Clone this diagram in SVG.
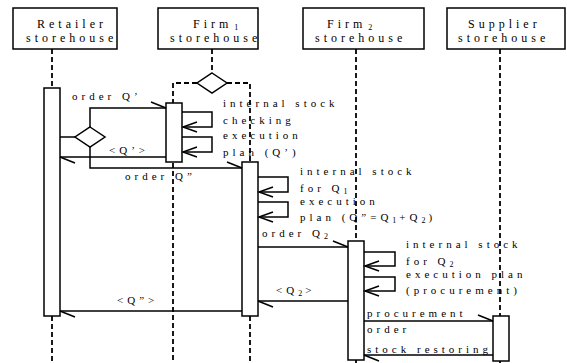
<svg xmlns="http://www.w3.org/2000/svg" width="567" height="363" viewBox="0 0 567 363">
<style>
.box{fill:#fff;stroke:#000;stroke-width:1.5}
.act{fill:#fff;stroke:#000;stroke-width:1.5}
.life{fill:none;stroke:#000;stroke-width:1.8;stroke-dasharray:5 3}
.ln{fill:none;stroke:#000;stroke-width:1.5}
.msg{fill:none;stroke:#000;stroke-width:1.5;marker-end:url(#tick)}
.self{fill:none;stroke:#000;stroke-width:1.5;marker-end:url(#vee)}
.hd{font-family:"Liberation Serif",serif;font-size:12px;letter-spacing:4px;fill:#000}
.tx{font-family:"Liberation Serif",serif;font-size:11px;letter-spacing:4px;fill:#000}
.sub{font-size:8px;letter-spacing:3px}
</style>
<defs>
<marker id="tick" markerUnits="userSpaceOnUse" viewBox="-17 -8 19 10" markerWidth="19" markerHeight="10" refX="0" refY="0" orient="auto" overflow="visible">
<path d="M0,0 L-15,-6" fill="none" stroke="#000" stroke-width="1.5"/>
</marker>
<marker id="vee" markerUnits="userSpaceOnUse" viewBox="-16 -7 18 14" markerWidth="18" markerHeight="14" refX="0" refY="0" orient="auto" overflow="visible">
<path d="M-14,-5 L0,0 L-14,5" fill="none" stroke="#000" stroke-width="1.5"/>
</marker>
</defs>
<rect width="567" height="363" fill="#fff"/>

<g id="retailer">
<rect class="box" x="13" y="8" width="104" height="41"/>
<text class="hd" x="37" y="28">Retailer</text>
<text class="hd" x="26" y="42">storehouse</text>
<path class="life" d="M52,49 V88 M52,316 V363"/>
<rect class="act" x="44" y="88" width="16" height="228"/>
</g>

<g id="firm1">
<rect class="box" x="158" y="8" width="100" height="41"/>
<text class="hd" x="193" y="28">Firm<tspan class="sub" dx="2" dy="2">1</tspan></text>
<text class="hd" x="170" y="42">storehouse</text>
<path class="life" d="M212,49 V73 M197,83 H173 V363 M227,83 H250 V162 M250,316 V363"/>
<polygon class="ln" points="212,73 227,83 212,93 197,83"/>
<rect class="act" x="166" y="103" width="16" height="59"/>
<rect class="act" x="242" y="162" width="16" height="154"/>
</g>

<g id="firm2">
<rect class="box" x="303" y="8" width="121" height="41"/>
<text class="hd" x="327" y="28">Firm<tspan class="sub" dx="2" dy="2">2</tspan></text>
<text class="hd" x="315" y="42">storehouse</text>
<path class="life" d="M356,49 V241 M356,360 V363"/>
<rect class="act" x="348" y="241" width="16" height="119"/>
</g>

<g id="supplier">
<rect class="box" x="447" y="8" width="118" height="41"/>
<text class="hd" x="468" y="28">Supplier</text>
<text class="hd" x="458" y="42">storehouse</text>
<path class="life" d="M500,49 V316 M500,361 V363"/>
<rect class="act" x="493" y="316" width="16" height="45"/>
</g>

<g id="connectors">
<path class="ln" d="M60,137 H75"/>
<polygon class="ln" points="90,127 105,137 90,147 75,137" fill="#fff"/>
<path class="msg" d="M90,127 V108 H166"/>
<path class="msg" d="M90,147 V168 H242"/>
<path class="msg" d="M166,157 H60"/>
<path class="self" d="M182,112 H212 V127 H183"/>
<path class="self" d="M182,137 H212 V152 H183"/>
<path class="self" d="M258,177 H288 V192 H259"/>
<path class="self" d="M258,202 H288 V217 H259"/>
<path class="msg" d="M258,247 H348"/>
<path class="self" d="M364,252 H395 V266 H365"/>
<path class="self" d="M364,277 H395 V291 H365"/>
<path class="msg" d="M348,301 H258"/>
<path class="msg" d="M242,311 H60"/>
<path class="msg" d="M364,321 H493"/>
<path class="msg" d="M493,355 H364"/>
</g>

<g id="labels">
<text class="tx" x="72" y="100">order Q’</text>
<text class="tx" x="109" y="154">&lt;Q’&gt;</text>
<text class="tx" x="125" y="180">order Q”</text>
<text class="tx" x="223" y="107">internal stock</text>
<text class="tx" x="223" y="124">checking</text>
<text class="tx" x="223" y="139">execution</text>
<text class="tx" x="223" y="156">plan (Q’)</text>
<text class="tx" x="300" y="175">internal stock</text>
<text class="tx" x="300" y="192">for Q<tspan class="sub" dy="2">1</tspan></text>
<text class="tx" x="300" y="205">execution</text>
<text class="tx" x="300" y="221">plan (Q”=Q<tspan class="sub" dy="2">1</tspan><tspan dy="-2">+Q</tspan><tspan class="sub" dy="2">2</tspan><tspan dy="-2">)</tspan></text>
<text class="tx" x="262" y="237">order Q<tspan class="sub" dy="2">2</tspan></text>
<text class="tx" x="406" y="248">internal stock</text>
<text class="tx" x="406" y="265">for Q<tspan class="sub" dy="2">2</tspan></text>
<text class="tx" x="406" y="278">execution plan</text>
<text class="tx" x="406" y="294">(procurement)</text>
<text class="tx" x="276" y="294">&lt;Q<tspan class="sub" dy="2">2</tspan><tspan dy="-2">&gt;</tspan></text>
<text class="tx" x="117" y="304">&lt;Q”&gt;</text>
<text class="tx" x="367" y="317">procurement</text>
<text class="tx" x="367" y="333">order</text>
<text class="tx" x="367" y="353">stock restoring</text>
</g>
</svg>
